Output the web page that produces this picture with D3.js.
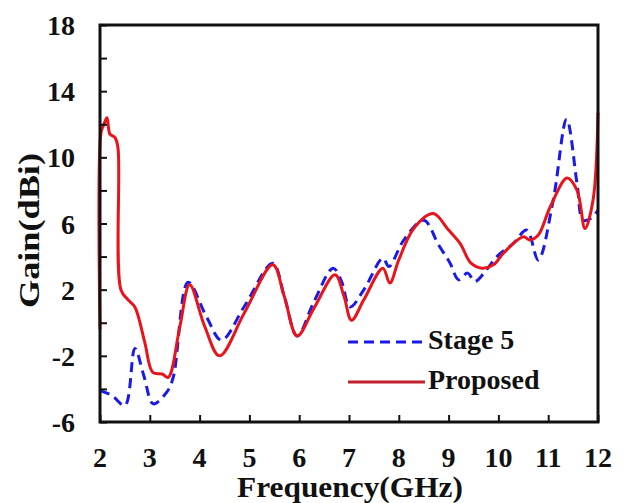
<!DOCTYPE html>
<html>
<head>
<meta charset="utf-8">
<script src="https://cdn.jsdelivr.net/npm/d3@7"></script>
<style>
  html, body { margin: 0; padding: 0; background: #fff; }
  text { font-family: "Liberation Serif", "Times New Roman", serif; font-weight: bold; fill: #111; }
</style>
</head>
<body>
<div id="chart"></div>
<script>
// ── Data ──────────────────────────────────────────────────────
const xTicks = [2, 3, 4, 5, 6, 7, 8, 9, 10, 11, 12];
const yTicks = [-6, -4, -2, 0, 2, 4, 6, 8, 10, 12, 14, 16, 18];
const yLabels = [-6, -2, 2, 6, 10, 14, 18];

const freqStage = [2.0, 2.24, 2.5, 2.7, 2.88, 3.07, 3.34, 3.47, 3.77, 4.14, 4.44, 4.9, 5.47, 5.7, 5.96,
  6.3, 6.68, 6.85, 7.02, 7.3, 7.68, 7.8, 8.1, 8.5, 8.8, 9.03, 9.2, 9.38, 9.53, 9.76, 9.97,
  10.3, 10.57, 10.8, 11.1, 11.37, 11.58, 11.7, 11.85, 12.0];
const gainStage = [-4.1, -4.4, -5.0, -1.55, -3.2, -4.9, -4.2, -3.3, 2.45, 0.35, -1.05, 1.0, 3.6, 1.6, -0.8,
  1.3, 3.3, 2.5, 0.95, 2.0, 3.9, 3.4, 5.0, 6.2, 4.7, 3.6, 2.6, 3.0, 2.5, 3.2, 4.0,
  4.8, 5.6, 3.8, 7.4, 12.3, 8.4, 6.2, 6.3, 6.8];

const freqProp = [2.0, 2.02, 2.08, 2.14, 2.2, 2.3, 2.36, 2.42, 2.56, 2.7, 2.9, 3.06, 3.25, 3.37, 3.6,
  3.8, 4.1, 4.4, 4.9, 5.47, 5.7, 5.96, 6.3, 6.72, 6.9, 7.05, 7.3, 7.68, 7.82, 8.0, 8.3,
  8.69, 9.0, 9.23, 9.45, 9.67, 9.9, 10.1, 10.5, 10.63, 10.8, 11.04, 11.38, 11.58, 11.74, 11.9, 12.0];
const gainProp = [-0.4, 11.5, 12.0, 12.4, 11.4, 11.2, 10.6, 2.0, 1.4, 0.95, -1.2, -3.0, -3.1, -3.3, -0.3,
  2.3, -0.2, -2.0, 0.6, 3.5, 1.6, -0.8, 0.9, 2.9, 1.6, 0.15, 1.4, 3.3, 2.4, 3.8, 5.7,
  6.6, 5.6, 4.8, 3.6, 3.3, 3.5, 4.2, 5.2, 5.0, 5.3, 7.0, 8.75, 8.0, 5.7, 7.4, 12.7];

const series = [
  { name: 'Stage 5', freq: freqStage, gain: gainStage, color: '#1a1ae6', dash: '10 6' },
  { name: 'Proposed', freq: freqProp, gain: gainProp, color: '#e8141c', dash: null }
];

// ── Layout ────────────────────────────────────────────────────
const W = 626, H = 503;
const margin = { left: 100, right: 28, top: 25, bottom: 81 };

const svg = d3.select('#chart').append('svg')
  .attr('width', W).attr('height', H);

const x = d3.scaleLinear().domain([2, 12]).range([margin.left, W - margin.right]);
const y = d3.scaleLinear().domain([-6, 18]).range([H - margin.bottom, margin.top]);

// ── Curves ────────────────────────────────────────────────────
const line = d3.line()
  .x((d) => x(d[0]))
  .y((d) => y(d[1]))
  .curve(d3.curveCatmullRom.alpha(0.5));

series.forEach((s) => {
  svg.append('path')
    .datum(s.freq.map((f, i) => [f, s.gain[i]]))
    .attr('fill', 'none')
    .attr('stroke', s.color)
    .attr('stroke-width', 3)
    .attr('stroke-dasharray', s.dash)
    .attr('stroke-linejoin', 'round')
    .attr('d', line);
});

// ── Axes (inward ticks) ───────────────────────────────────────
const xAxis = svg.append('g')
  .attr('transform', `translate(0,${y(-6)})`)
  .call(d3.axisBottom(x).tickValues(xTicks).tickSize(-7).tickFormat(''));
const yAxis = svg.append('g')
  .attr('transform', `translate(${x(2)},0)`)
  .call(d3.axisLeft(y).tickValues(yTicks).tickSize(-7).tickFormat(''));

[xAxis, yAxis].forEach((g) => {
  g.select('.domain').remove();
  g.selectAll('.tick line').attr('stroke', '#111').attr('stroke-width', 2);
});

// frame
svg.append('rect')
  .attr('x', x(2)).attr('y', y(18))
  .attr('width', x(12) - x(2)).attr('height', y(-6) - y(18))
  .attr('fill', 'none')
  .attr('stroke', '#111')
  .attr('stroke-width', 3);

// tick labels
svg.append('g').selectAll('text')
  .data(xTicks)
  .join('text')
  .attr('x', (d) => x(d))
  .attr('y', 467)
  .attr('text-anchor', 'middle')
  .style('font-size', '28px')
  .text((d) => d);

svg.append('g').selectAll('text')
  .data(yLabels)
  .join('text')
  .attr('x', 75)
  .attr('y', (d) => y(d) + 10)
  .attr('text-anchor', 'end')
  .style('font-size', '28px')
  .text((d) => d);

// axis titles
svg.append('text')
  .attr('x', 237).attr('y', 497)
  .attr('textLength', 226)
  .attr('lengthAdjust', 'spacingAndGlyphs')
  .style('font-size', '30px')
  .text('Frequency(GHz)');

svg.append('text')
  .attr('transform', 'translate(39,308) rotate(-90)')
  .attr('textLength', 155)
  .attr('lengthAdjust', 'spacingAndGlyphs')
  .style('font-size', '30px')
  .text('Gain(dBi)');

// ── Legend ────────────────────────────────────────────────────
const legendY = [342, 382];
const legend = svg.append('g');
series.forEach((s, i) => {
  legend.append('line')
    .attr('x1', 348).attr('x2', 425)
    .attr('y1', legendY[i]).attr('y2', legendY[i])
    .attr('stroke', i === 1 ? '#c0202a' : s.color)
    .attr('stroke-width', 3)
    .attr('stroke-dasharray', s.dash);
  legend.append('text')
    .attr('x', 428)
    .attr('y', legendY[i] + 7)
    .style('font-size', '28px')
    .text(s.name);
});
</script>
</body>
</html>
